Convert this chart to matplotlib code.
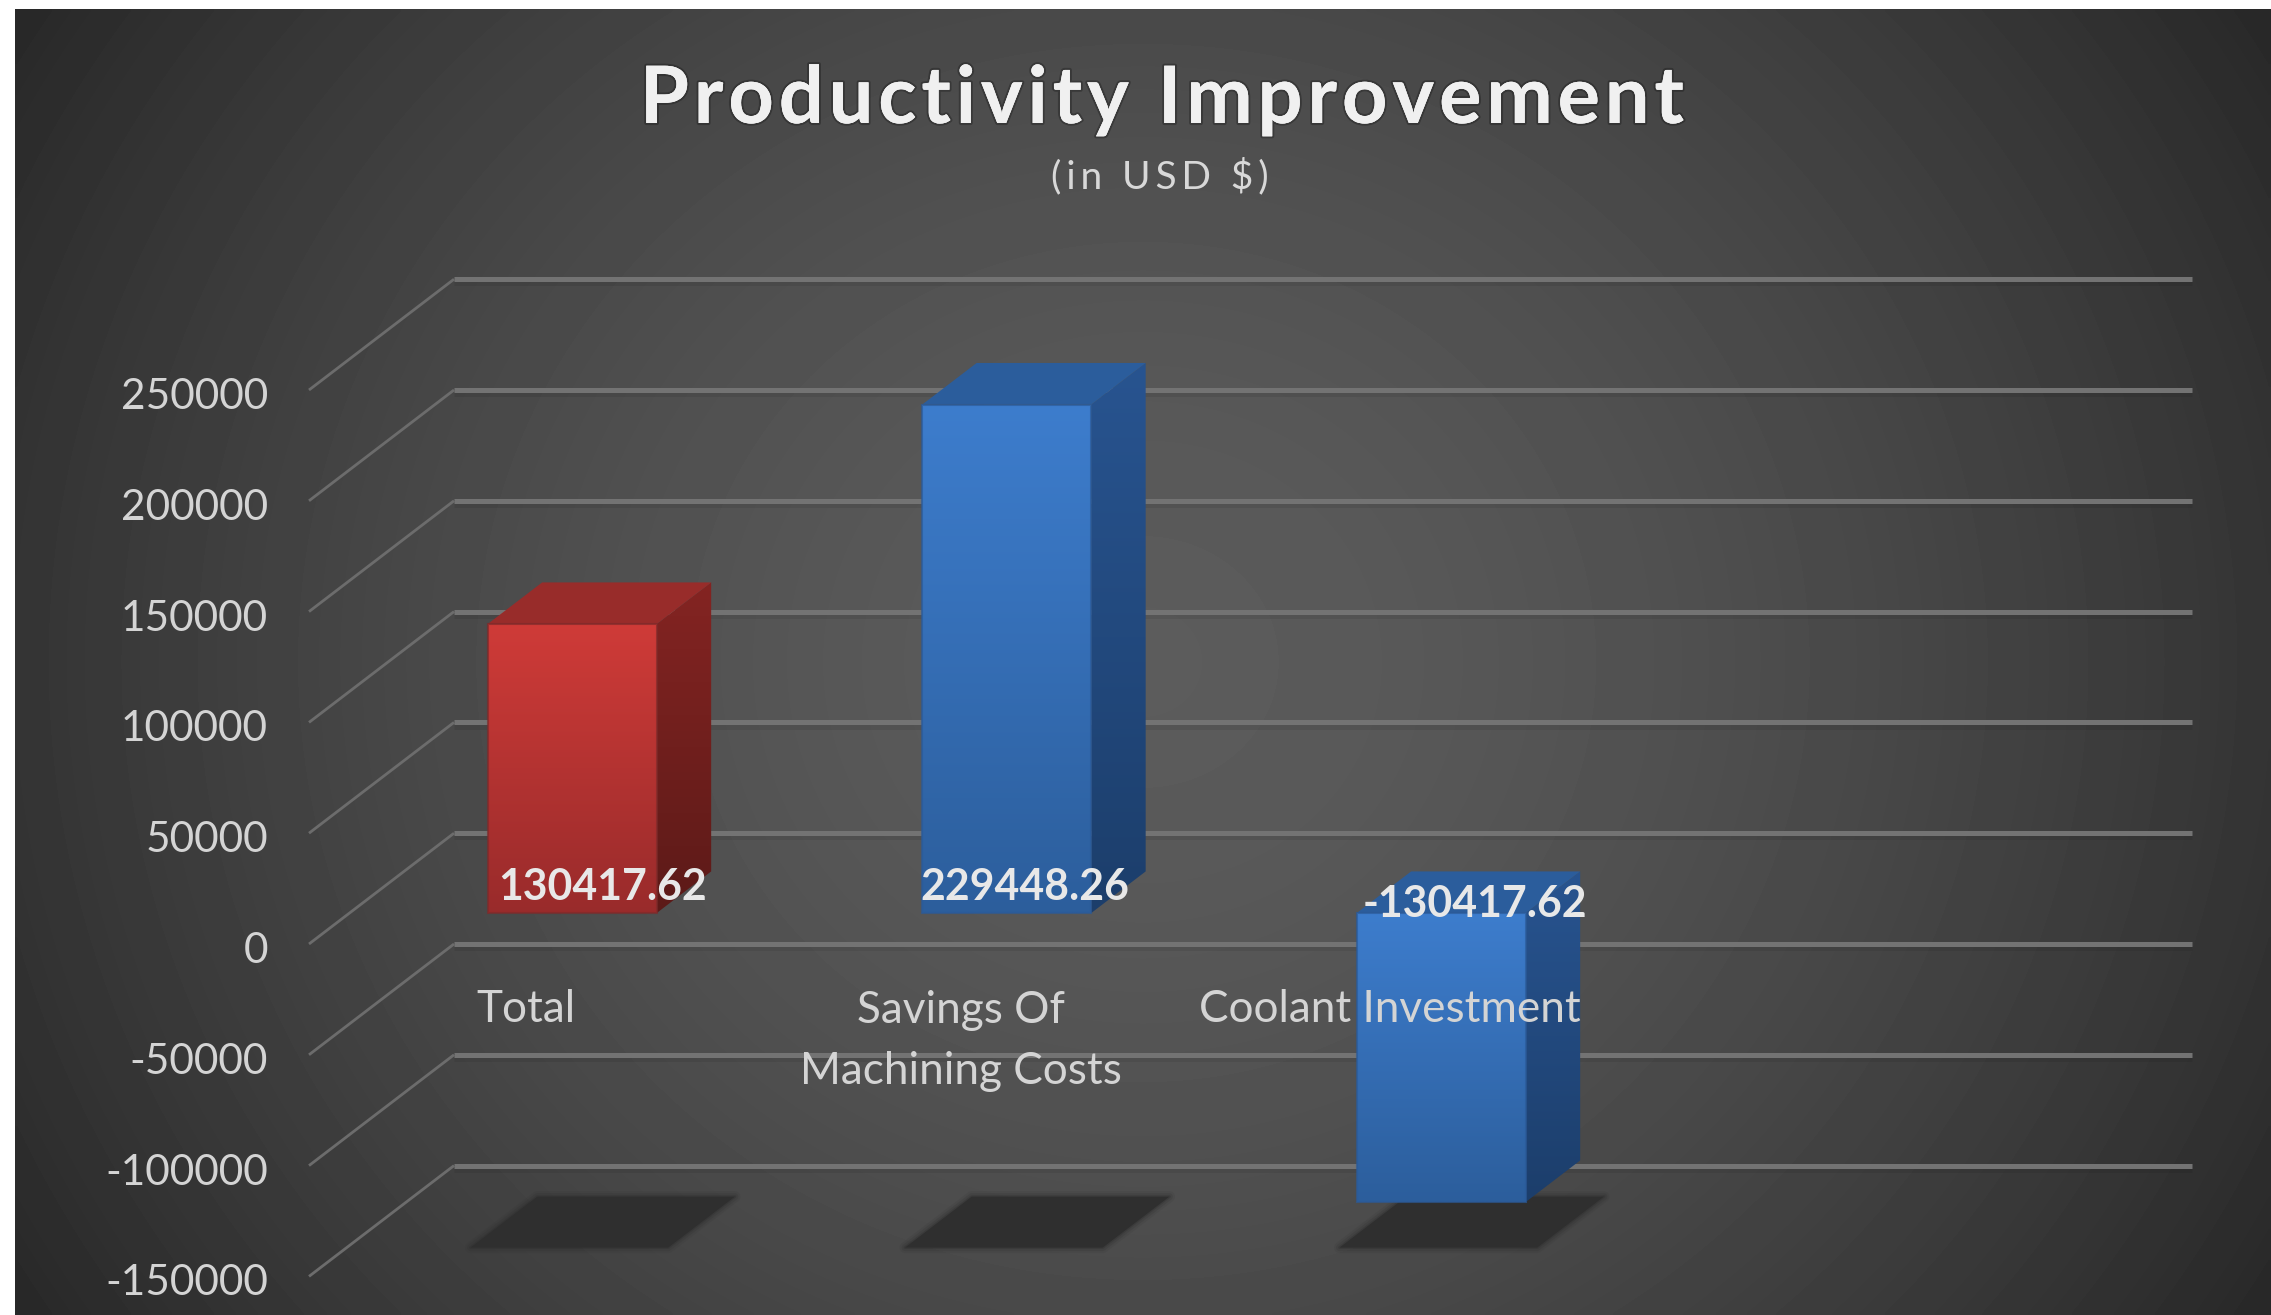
#!/usr/bin/env python3
import numpy as np
import matplotlib
matplotlib.use("Agg")
import matplotlib.pyplot as plt
import matplotlib.patheffects as pe
from matplotlib.colors import LinearSegmentedColormap
from matplotlib.patches import Polygon

categories = ["Total", "Savings Of\nMachining Costs", "Coolant Investment"]
values = [130417.62, 229448.26, -130417.62]
value_labels = ["130417.62", "229448.26", "-130417.62"]
ticks = [250000, 200000, 150000, 100000, 50000, 0, -50000, -100000, -150000]

plt.rcParams["font.family"] = ["Lato", "DejaVu Sans"]

W, H = 2271, 1315
cat_px = 434.5     # width of one category in pixels
step_px = 110.8    # pixels for one 50000 step
x0_px, y0_px = 309, 944   # front plane origin
depth_x = 145 / cat_px    # axis depth in category units
depth_y = 50000           # axis depth in value units
bar_left, bar_width = 0.318, 0.389
bar_d0, bar_d1 = 0.28, 0.655

RED = dict(front=("#cf3b38", "#992b2b"), side=("#842422", "#5c1a18"), top="#982c2a", rim="#7e2a2a")
BLUE = dict(front=("#3d7dcd", "#2c5e9c"), side=("#285490", "#1c3e6b"), top="#2b5d9c", rim="#2b5a98")
bar_styles = [RED, BLUE, BLUE]
label_shift = [(30, 26), (18, 26), (34, 9)]  # px from the bottom of the front face
name_shift = [(0, -66), (0, -46), (-5, -66)]  # px from the zero line


def pt(x, v, d):
    """ category position, value and depth -> plot coordinates."""
    return (x + d * depth_x, v + d * depth_y)


def gradient(ax, poly, colors, z):
    """ Polygon filled with a vertical gradient, clipped on the polygon."""
    xs, ys = zip(*poly)
    cmap = LinearSegmentedColormap.from_list("g", colors)
    im = ax.imshow(np.linspace(0, 1, 256)[:, None], cmap=cmap, aspect="auto", zorder=z,
                   extent=(min(xs), max(xs), min(ys), max(ys)), interpolation="bilinear")
    patch = Polygon(poly, transform=ax.transData, fc="none", ec="none")
    ax.add_patch(patch)
    im.set_clip_path(patch)


def spaced(text, sep):
    return sep.join(text)


fig = plt.figure(figsize=(W / 100, H / 100), dpi=100, facecolor="white")

# background
bg = fig.add_axes([15 / W, 0, 1 - 15 / W, 1 - 9 / H])
yy, xx = np.mgrid[0:1:300j, 0:1:500j]
r = np.sqrt(((xx - 0.5) / 0.5) ** 2 * 0.72 + ((yy - 0.5) / 0.5) ** 2 * 0.28)
bg.imshow(92 - 52 * r ** 1.6, cmap="gray", vmin=0, vmax=255, aspect="auto", interpolation="bilinear")
bg.axis("off")

ax = fig.add_axes([0, 0, 1, 1])
ax.patch.set_alpha(0)
ax.axis("off")
xlim = (-x0_px / cat_px, (W - x0_px) / cat_px)
ylim = ((y0_px - H) / step_px * 50000, y0_px / step_px * 50000)

# gridlines and axis depth lines
for v in ticks:
    ax.plot(*zip(pt(0, v, 0), pt(0, v, 1)), color="#6c6c6c", lw=2, zorder=2, solid_capstyle="butt")
    ax.plot(*zip(pt(0, v, 1), pt(4, v, 1)), color="#737373", lw=3.6, zorder=2, solid_capstyle="butt",
            path_effects=[pe.SimpleLineShadow(offset=(0, -3), shadow_color="black", alpha=0.07), pe.Normal()])
    ax.annotate(str(v), (0, v), xytext=(-41, -7), textcoords="offset pixels", ha="right", va="center",
                color="#d4d4d4", fontsize=30.5, zorder=8)

# shadows on the floor
for i in range(len(categories)):
    shadow = [pt(i + 0.285, ticks[-1], 0.26), pt(i + 0.74, ticks[-1], 0.26),
              pt(i + 0.74, ticks[-1], 0.72), pt(i + 0.285, ticks[-1], 0.72)]
    for lw, a in [(8, 0.12), (5, 0.2), (2, 0.35)]:
        ax.add_patch(Polygon(shadow, fc="none", ec="#2e2e2e", lw=lw, alpha=a, zorder=3, joinstyle="round"))
    ax.add_patch(Polygon(shadow, fc="#2f2f2f", ec="none", zorder=3))

# bars
for i, (v, st) in enumerate(zip(values, bar_styles)):
    x1, x2 = i + bar_left, i + bar_left + bar_width
    hi, lo = max(v, 0), min(v, 0)
    side = [pt(x2, hi, bar_d0), pt(x2, hi, bar_d1), pt(x2, lo, bar_d1), pt(x2, lo, bar_d0)]
    top = [pt(x1, hi, bar_d0), pt(x2, hi, bar_d0), pt(x2, hi, bar_d1), pt(x1, hi, bar_d1)]
    front = [pt(x1, hi, bar_d0), pt(x2, hi, bar_d0), pt(x2, lo, bar_d0), pt(x1, lo, bar_d0)]
    gradient(ax, side, st["side"], 4)
    ax.add_patch(Polygon(top, fc=st["top"], ec="none", zorder=4.2))
    gradient(ax, front, st["front"], 4.4)
    ax.add_patch(Polygon(front, fc="none", ec=st["rim"], lw=1.5, alpha=0.7, zorder=4.6))
    dx, dy = label_shift[i]
    ax.annotate(value_labels[i], pt(i + bar_left + bar_width / 2, lo if v > 0 else hi, bar_d0),
                xytext=(dx, dy), textcoords="offset pixels", ha="center", va="center",
                color="#e8e8e8", fontsize=30.8, fontweight="bold", zorder=9)

# category labels, sitting over the bars
for i, name in enumerate(categories):
    ax.annotate(name, (i + 0.5, 0), xytext=name_shift[i], textcoords="offset pixels", ha="center",
                va="top" if "\n" in name else "center", color="#d4d4d4", fontsize=31.8,
                linespacing=1.62, zorder=9)

ax.set_xlim(xlim)
ax.set_ylim(ylim)

fig.text(1162 / W, 1 - 101 / H, spaced("Productivity Improvement", "\u200a"), ha="center", va="center",
         color="#f0f0f0", fontsize=57, fontweight="bold",
         path_effects=[pe.withStroke(linewidth=3, foreground="#00000040"), pe.Normal()])
fig.text(1160 / W, 1 - 176 / H, spaced("(in USD $)", "\u2009"), ha="center", va="center", color="#d8d8d8", fontsize=28)

fig.savefig("out.png", dpi=100, facecolor="white")
